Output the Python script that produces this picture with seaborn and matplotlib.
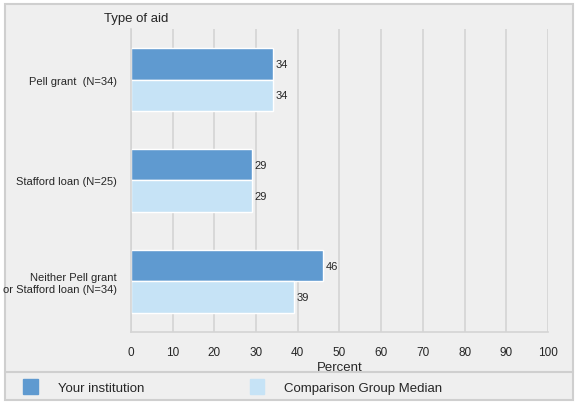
import pandas as pd
import matplotlib
matplotlib.use("Agg")
import matplotlib.pyplot as plt
import matplotlib.patches as mpatches
import seaborn as sns

categories = ["Pell grant  (N=34)", "Stafford loan (N=25)", "Neither Pell grant\nor Stafford loan (N=34)"]
your_institution = [34, 29, 46]
comparison_median = [34, 29, 39]
series_names = ["Your institution", "Comparison Group Median"]
colors = ["#5f9ad0", "#c6e3f6"]

df = pd.DataFrame({
    "Type": categories * 2,
    "Percent": your_institution + comparison_median,
    "Series": [series_names[0]] * 3 + [series_names[1]] * 3,
})

sns.set_style("white")
plt.rcParams["font.family"] = ["Liberation Sans", "DejaVu Sans"]

fig = plt.figure(figsize=(5.78, 4.06), dpi=100, facecolor="white")
# outer panel and legend strip
fig.patches.append(mpatches.Rectangle((0.008, 0.012), 0.984, 0.976, transform=fig.transFigure,
                                      facecolor="#efefef", edgecolor="#cfcfcf", lw=1.5, zorder=-2))
fig.add_artist(plt.Line2D([0.008, 0.992], [0.082, 0.082], color="#cfcfcf", lw=1.5))

ax = fig.add_axes([0.2266, 0.180, 0.7215, 0.746])
ax.set_facecolor("#efefef")
sns.barplot(data=df, y="Type", x="Percent", hue="Series", palette=colors, width=0.62,
            orient="h", ax=ax, legend=False, saturation=1)
ax.set_xlim(0, 100)
ax.set_xticks(range(0, 101, 10))
ax.grid(axis="x", color="#d4d4d4", lw=1.2)
ax.set_axisbelow(True)
for s in ["top", "right"]:
    ax.spines[s].set_visible(False)
for s in ["left", "bottom"]:
    ax.spines[s].set_color("#d4d4d4")
    ax.spines[s].set_linewidth(1.2)
ax.tick_params(axis="x", length=8, color="#d4d4d4", labelsize=8.5, pad=2)
ax.tick_params(axis="y", length=0, labelsize=8, pad=10)
ax.set_xlabel("Percent", fontsize=9.5, labelpad=2)
ax.set_ylabel("")
for lbl in ax.get_yticklabels():
    lbl.set_horizontalalignment("right")
    lbl.set_multialignment("right")
for cont in ax.containers:
    ax.bar_label(cont, fmt="%d", padding=2, fontsize=8)
fig.text(0.18, 0.945, "Type of aid", fontsize=9.5)

fig.legend(handles=[mpatches.Patch(color=c, label=n) for c, n in zip(colors, series_names)],
           loc="center left", bbox_to_anchor=(0.02, 0.045), ncol=2, frameon=False,
           fontsize=9.5, handlelength=1.1, handleheight=1.4, columnspacing=8, handletextpad=1.5)

fig.savefig("out.png", dpi=100, facecolor="white")
